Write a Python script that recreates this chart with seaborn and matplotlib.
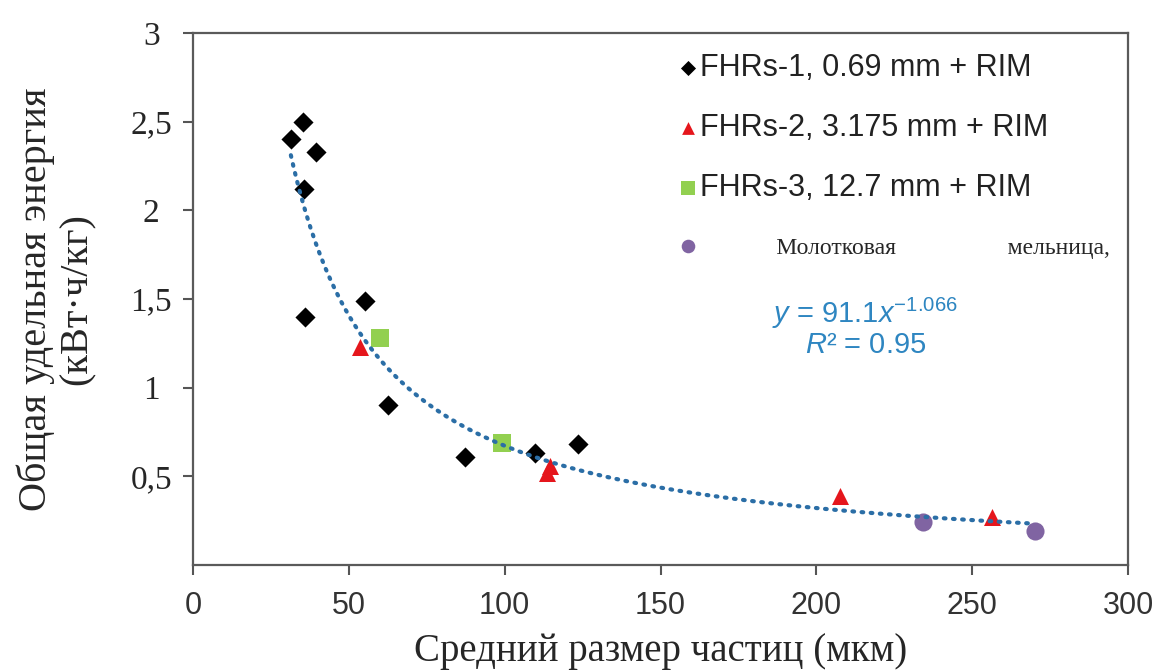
import numpy as np
import pandas as pd
import matplotlib
matplotlib.use('Agg')
import matplotlib.pyplot as plt
import seaborn as sns

# data
fhrs1_x = [31.4, 35.3, 39.5, 35.6, 35.9, 55.2, 62.5, 87.3, 109.7, 123.5]
fhrs1_y = [2.40, 2.50, 2.33, 2.12, 1.40, 1.49, 0.90, 0.61, 0.63, 0.68]
fhrs2_x = [53.6, 113.5, 114.5, 207.6, 256.3]
fhrs2_y = [1.23, 0.52, 0.56, 0.39, 0.27]
fhrs3_x = [60.0, 99.1]
fhrs3_y = [1.28, 0.69]
mill_x = [234.2, 270.1]
mill_y = [0.24, 0.19]

labels = ['FHRs-1, 0.69 mm + RIM', 'FHRs-2, 3.175 mm + RIM',
          'FHRs-3, 12.7 mm + RIM',
          '             Молотковая                   мельница,']

# power trendline shown on the chart: y = a * x^b
fit_a = 91.1
fit_b = -1.066
fit_x_min, fit_x_max = 31.4, 270.1

x_ticks = [0, 50, 100, 150, 200, 250, 300]
y_ticks = [0.5, 1, 1.5, 2, 2.5, 3]
y_tick_labels = ['0,5', '1', '1,5', '2', '2,5', '3']

sns.set_style('ticks')
plt.rcParams['font.family'] = ['Liberation Serif', 'DejaVu Serif']
plt.rcParams['mathtext.fontset'] = 'custom'
plt.rcParams['mathtext.rm'] = 'Liberation Sans'
plt.rcParams['mathtext.it'] = 'Liberation Sans:italic'

fig = plt.figure(figsize=(11.55, 6.7), dpi=100)
ax = fig.add_axes([193 / 1155, 1 - 565 / 670, 935 / 1155, 532 / 670])

# trendline
fx = np.linspace(fit_x_min, fit_x_max, 300)
trend = pd.DataFrame({'x': fx, 'y': fit_a * fx ** fit_b})
sns.lineplot(data=trend, x='x', y='y', ax=ax, color='#2b6ea6', linewidth=3,
             linestyle=(0, (0.4, 1.8)), dash_capstyle='round', zorder=3)

groups = [
    (fhrs1_x, fhrs1_y, 'D', '#000000', 105, labels[0]),
    (fhrs2_x, fhrs2_y, '^', '#e5161c', 150, labels[1]),
    (fhrs3_x, fhrs3_y, 's', '#92d050', 175, labels[2]),
    (mill_x, mill_y, 'o', '#8064a2', 170, labels[3]),
]
for gx, gy, mk, col, size, lab in groups:
    df = pd.DataFrame({'x': gx, 'y': gy})
    sns.scatterplot(data=df, x='x', y='y', ax=ax, marker=mk, color=col, s=size,
                    linewidth=0, label=lab, zorder=2)

ax.set_xlim(0, 300)
ax.set_ylim(0, 3)
ax.set_xticks(x_ticks)
ax.set_xticklabels([str(t) for t in x_ticks],
                   family=['Liberation Sans Narrow', 'Liberation Sans'],
                   fontsize=22, color='#333333')
ax.set_yticks(y_ticks)
ax.set_yticklabels(y_tick_labels, fontsize=24, ha='center')
ax.tick_params(axis='x', length=7, width=1.5, color='#555555', pad=12)
ax.tick_params(axis='y', length=7, width=1.5, color='#555555', pad=23)

for sp in ax.spines.values():
    sp.set_visible(True)
    sp.set_color('#5a5a5a')
    sp.set_linewidth(1.6)

ax.set_xlabel('Средний размер частиц (мкм)', fontsize=28, labelpad=8)
ax.set_ylabel('Общая удельная энергия\n(кВт·ч/кг)', fontsize=29,
              labelpad=25, linespacing=1.15)

# fit equation
ax.text(0.719, 0.455, r'$y$ = 91.1$x^{\mathrm{-1.066}}$', transform=ax.transAxes,
        fontsize=21, color='#2e86c1', family='Liberation Sans', ha='center')
ax.text(0.719, 0.398, r'$R$² = 0.95', transform=ax.transAxes,
        fontsize=21, color='#2e86c1', family='Liberation Sans', ha='center')

leg = ax.legend(loc='upper left', bbox_to_anchor=(0.5166, 0.963), frameon=False,
                borderpad=0, borderaxespad=0, handlelength=0.8, handletextpad=0.0,
                labelspacing=0.98, markerscale=0.75,
                prop={'family': 'Liberation Sans', 'size': 22})
for t in leg.get_texts()[:3]:
    t.set_color('#222222')
leg.get_texts()[3].set_family('Liberation Serif')
leg.get_texts()[3].set_fontsize(17)

fig.savefig('out.png', dpi=100)
